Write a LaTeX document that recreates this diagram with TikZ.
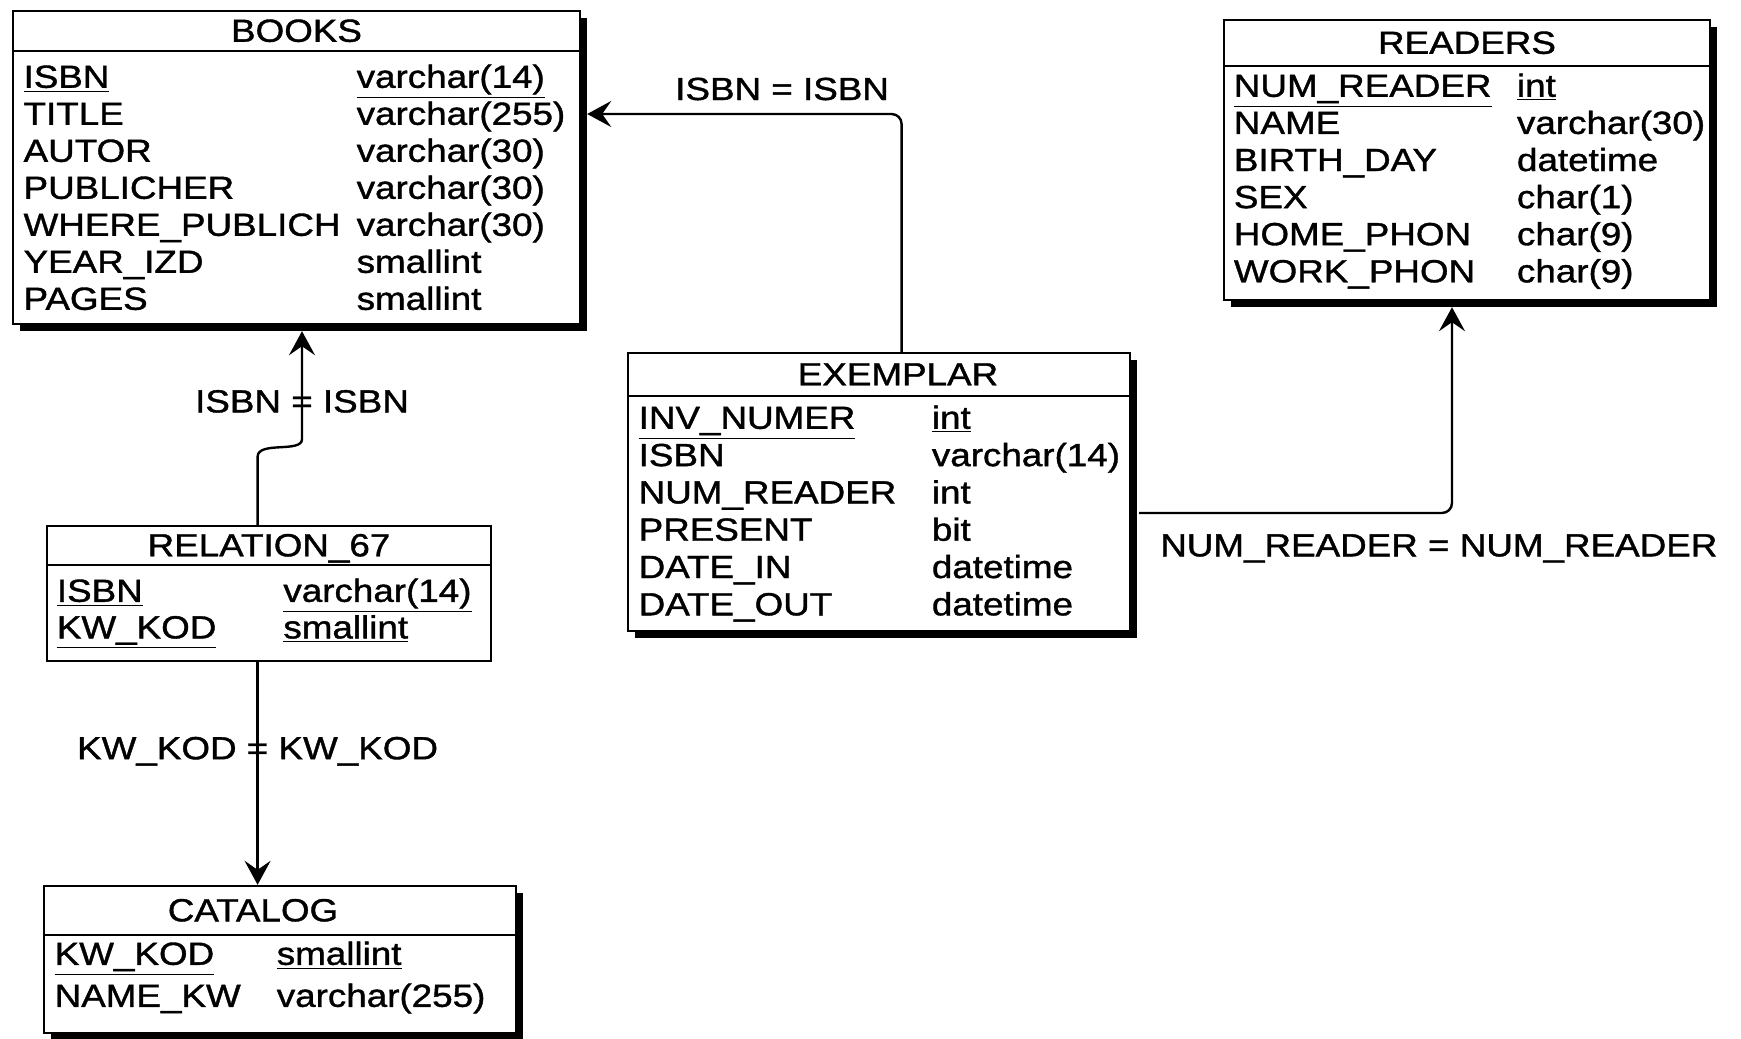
\documentclass[tikz,border=0pt]{standalone}
\usepackage{fontspec}
\setmainfont{Liberation Sans}[FakeStretch=1.15, FakeBold=1.2]
\usepackage{tikz}
\usetikzlibrary{arrows.meta, positioning, calc, shadows}

\newcommand{\tblfont}{\fontsize{16}{18.5}\selectfont}

\begin{document}
\begin{tikzpicture}[
      x=0.5pt, y=-0.5pt,
      >={Stealth[length=12pt, width=13pt, inset=4.5pt]},
      tbl/.style={draw, rectangle, line width=1.2pt, fill=white, inner sep=0pt},
      shd/.style={drop shadow={shadow xshift=3.3pt, shadow yshift=-3.3pt,
                  fill=black, opacity=1}},
      ttl/.style={font=\tblfont, inner sep=0pt, anchor=base},
      fld/.style={font=\tblfont, inner sep=0pt, anchor=base west},
      sep/.style={line width=1.2pt},
      conn/.style={->, line width=1.2pt, rounded corners=5pt},
      lbl/.style={font=\tblfont, inner sep=0pt}
    ]
      \useasboundingbox (0,0) rectangle (1741,1039);

      % tables
      \node[tbl, shd, minimum width=283.5pt, minimum height=156.5pt] (books)    at (296.5,167.5) {};
      \node[tbl, shd, minimum width=243pt,   minimum height=140pt]   (readers)  at (1467,160) {};
      \node[tbl, shd, minimum width=251pt,   minimum height=139pt]   (exemplar) at (879,492) {};
      \node[tbl,      minimum width=222pt,   minimum height=67.5pt]  (rel)      at (269,593.5) {};
      \node[tbl, shd, minimum width=236pt,   minimum height=73.5pt]  (catalog)  at (280,959.5) {};

      % header lines and titles
      \draw[sep] ($(books.north west)+(0,41)$)    -- ($(books.north east)+(0,41)$);
      \draw[sep] ($(readers.north west)+(0,47)$)  -- ($(readers.north east)+(0,47)$);
      \draw[sep] ($(exemplar.north west)+(0,44)$) -- ($(exemplar.north east)+(0,44)$);
      \draw[sep] ($(rel.north west)+(0,40)$)      -- ($(rel.north east)+(0,40)$);
      \draw[sep] ($(catalog.north west)+(0,50)$)  -- ($(catalog.north east)+(0,50)$);
      \node[ttl] (books-ttl)    at ($(books.north)+(0,32)$)       {BOOKS};
      \node[ttl] (readers-ttl)  at ($(readers.north)+(0,35)$)     {READERS};
      \node[ttl] (exemplar-ttl) at ($(exemplar.north)+(19,33.5)$) {EXEMPLAR};
      \node[ttl] (rel-ttl)      at ($(rel.north)+(0,31.5)$)       {RELATION\_67};
      \node[ttl] (catalog-ttl)  at ($(catalog.north)+(-27,36.5)$) {CATALOG};

      % fields
      \foreach \k/\t [count=\i] in {\underline{ISBN}/\underline{varchar(14)}, TITLE/varchar(255),
          AUTOR/varchar(30), PUBLICHER/varchar(30), WHERE\_PUBLICH/varchar(30),
          YEAR\_IZD/smallint, PAGES/smallint} {
        \node[fld] (books-k\i) at ($(books.north west)+(11.4,{78+37*(\i-1)})$)  {\k};
        \node[fld] (books-t\i) at ($(books.north west)+(344.5,{78+37*(\i-1)})$) {\t};
      }
      \foreach \k/\t [count=\i] in {\underline{NUM\_READER}/\underline{int}, NAME/varchar(30),
          BIRTH\_DAY/datetime, SEX/char(1), HOME\_PHON/char(9), WORK\_PHON/char(9)} {
        \node[fld] (readers-k\i) at ($(readers.north west)+(10.7,{78+37.1*(\i-1)})$)  {\k};
        \node[fld] (readers-t\i) at ($(readers.north west)+(293.8,{78+37.1*(\i-1)})$) {\t};
      }
      \foreach \k/\t [count=\i] in {\underline{INV\_NUMER}/\underline{int}, ISBN/varchar(14),
          NUM\_READER/int, PRESENT/bit, DATE\_IN/datetime, DATE\_OUT/datetime} {
        \node[fld] (exemplar-k\i) at ($(exemplar.north west)+(11.5,{77+37.3*(\i-1)})$)  {\k};
        \node[fld] (exemplar-t\i) at ($(exemplar.north west)+(304.7,{77+37.3*(\i-1)})$) {\t};
      }
      \foreach \k/\t [count=\i] in {\underline{ISBN}/\underline{varchar(14)},
          \underline{KW\_KOD}/\underline{smallint}} {
        \node[fld] (rel-k\i) at ($(rel.north west)+(10.7,{77+36.6*(\i-1)})$)  {\k};
        \node[fld] (rel-t\i) at ($(rel.north west)+(237.2,{77+36.6*(\i-1)})$) {\t};
      }
      \foreach \k/\t [count=\i] in {\underline{KW\_KOD}/\underline{smallint}, NAME\_KW/varchar(255)} {
        \node[fld] (catalog-k\i) at ($(catalog.north west)+(11.5,{80+42*(\i-1)})$)  {\k};
        \node[fld] (catalog-t\i) at ($(catalog.north west)+(233.6,{80+42*(\i-1)})$) {\t};
      }

      % references
      \draw[conn] ([xshift=11.3pt]exemplar.north) |- ($(books.east)+(6,-53.5)$)
        node[lbl, pos=0.69, yshift=12.5pt] (isbn-lbl) {ISBN = ISBN};
      \draw[conn, sharp corners] ([xshift=-5.7pt]rel.north) -- ++(0,-68)
        .. controls +(0,-16) and +(0,14) .. ($(books.south)+(5.5,114)$)
        -- ($(books.south)+(5.5,6)$) node[lbl, pos=0.35] (isbn2-lbl) {ISBN = ISBN};
      \draw[conn] ([xshift=-5.7pt]rel.south) -- ([xshift=-5.7pt]rel.south |- catalog.north)
        node[lbl, pos=0.4] (kw-lbl) {KW\_KOD = KW\_KOD};
      \draw[conn] ($(exemplar.east)+(8,21)$) -| ($(readers.south)+(-15,6)$)
        node[lbl, pos=0.479, yshift=-17.75pt] (num-lbl) {NUM\_READER = NUM\_READER};
    \end{tikzpicture}
\end{document}
